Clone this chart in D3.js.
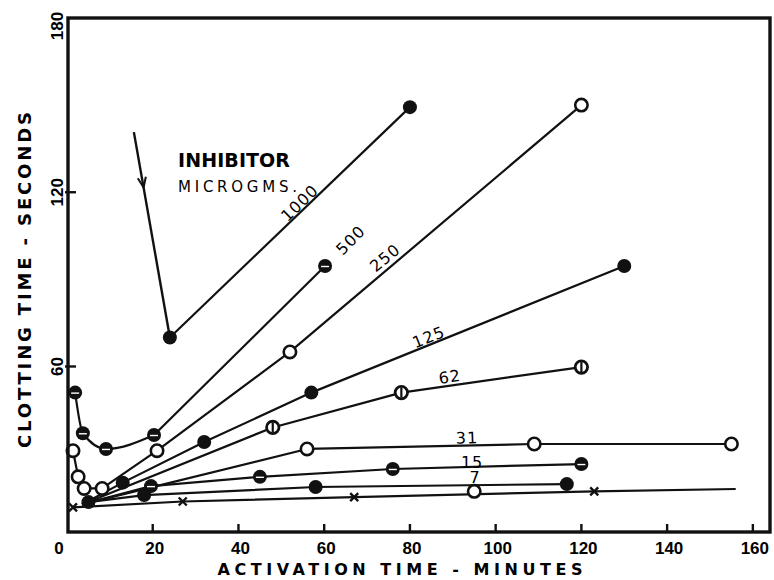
<!DOCTYPE html>
<html>
<head>
<meta charset="utf-8">
<script src="https://cdnjs.cloudflare.com/ajax/libs/d3/7.8.5/d3.min.js"></script>
<style>
	body { margin: 0; background: #fff; }
	svg { display: block; }
</style>
</head>
<body>
<svg id="svg_main" width="774" height="580"></svg>
<script>
// series: [activation minutes, clotting seconds]
var s1000 = [[24, 70], [80, 149.3]];
var s500 = [[1.9, 51], [3.7, 37], [9.1, 31.6], [20.3, 36.4], [60.2, 94.6]];
var s250 = [[1.4, 31], [2.6, 22], [4, 18], [8.2, 18], [21, 31], [52, 65], [120, 150]];
var s125 = [[13, 20], [32, 34], [57, 51], [130, 94.6]];
var s62 = [[48, 39], [78, 51], [120, 59.8]];
var s31 = [[56, 31.6], [109, 33.3], [155, 33.3]];
var s15 = [[19.6, 18.8], [45, 22], [76, 24.7], [120, 26.4]];
var s7 = [[5, 13.3], [18, 15.7], [58, 18.5], [116.6, 19.5]];
var s0 = [[1.4, 11.5], [27, 13.5], [67, 15], [123, 17]];
var s0_end = [156, 17.8];
var s0_open = [[95, 17]];
var fan_start = [3.5, 12.5];
var arrow_pts = [[15.6, 140.7], [24, 70]];

var x_ticks = [0, 20, 40, 60, 80, 100, 120, 140, 160];
var y_ticks = [60, 120, 180];

var labels_txt = ["1000", "500", "250", "125", "62", "31", "15", "7"];
var labels_pos = [[54.3, 116.3], [66.2, 103.5], [74.2, 97.4], [84.4, 70.1], [89.3, 56.4], [93.3, 35.4], [94.5, 27.1], [95.2, 21.6]];
var labels_rot = [-44, -45, -40, -22, -8, -2, 0, 0];

var svg = d3.select("#svg_main");

var x = d3.scaleLinear().domain([0, 164]).range([67, 770]),
	y = d3.scaleLinear().domain([3, 180]).range([532, 18]);

var line = d3.line()
	.x(d => x(d[0]))
	.y(d => y(d[1]));
var smooth = d3.line()
	.x(d => x(d[0]))
	.y(d => y(d[1]))
	.curve(d3.curveMonotoneX);

var series = [
	{ pts: s1000, mark: "filled" },
	{ pts: s500, mark: "half", bend: 4 },
	{ pts: s250, mark: "open" },
	{ pts: [fan_start].concat(s125), mark: "filled", skip: 1 },
	{ pts: [fan_start].concat(s62), mark: "vbar", skip: 1 },
	{ pts: [fan_start].concat(s31), mark: "open", skip: 1 },
	{ pts: [fan_start].concat(s15), mark: "half", skip: 1 },
	{ pts: s7, mark: "filled" },
	{ pts: s0.concat([s0_end]), mark: "x", last: 1 }
];

// lines
var lines = svg.append("g").attr("class", "lines");
for (let s of series) {
	let paths = s.bend
		? [smooth(s.pts.slice(0, s.bend)), line(s.pts.slice(s.bend - 1))]
		: [line(s.pts)];
	for (let p of paths)
		lines.append("path")
			.attr("d", p)
			.attr("fill", "none")
			.attr("stroke", "#111")
			.attr("stroke-width", 2.2)
			.attr("stroke-linejoin", "round");
}

// arrow toward the 1000 curve
svg.append("line")
	.attr("x1", x(arrow_pts[0][0])).attr("y1", y(arrow_pts[0][1]))
	.attr("x2", x(arrow_pts[1][0])).attr("y2", y(arrow_pts[1][1]))
	.attr("stroke", "#111")
	.attr("stroke-width", 2.4);
(function () {
	let x1 = x(arrow_pts[0][0]), y1 = y(arrow_pts[0][1]),
		x2 = x(arrow_pts[1][0]), y2 = y(arrow_pts[1][1]);
	let ang = Math.atan2(y2 - y1, x2 - x1);
	let tx = x1 + (x2 - x1) * 0.27, ty = y1 + (y2 - y1) * 0.27;
	for (let k of [-1, 1]) {
		let a = ang + Math.PI + k * 0.38;
		svg.append("line")
			.attr("x1", tx).attr("y1", ty)
			.attr("x2", tx + 11 * Math.cos(a)).attr("y2", ty + 11 * Math.sin(a))
			.attr("stroke", "#111")
			.attr("stroke-width", 2);
	}
})();

// markers
function marker(g, px, py, kind) {
	if (kind == "x") {
		g.append("path")
			.attr("d", `M${px - 4},${py - 4}L${px + 4},${py + 4}M${px - 4},${py + 4}L${px + 4},${py - 4}`)
			.attr("stroke", "#111")
			.attr("stroke-width", 2.4);
		return;
	}
	let c = g.append("circle")
		.attr("cx", px).attr("cy", py)
		.attr("r", kind == "open" || kind == "vbar" ? 6.2 : 7);
	if (kind == "filled") c.attr("fill", "#111");
	if (kind == "open") c.attr("fill", "#fff").attr("stroke", "#111").attr("stroke-width", 2.6);
	if (kind == "half") {
		c.attr("fill", "#111");
		g.append("line")
			.attr("x1", px - 4).attr("x2", px + 4)
			.attr("y1", py + 0.5).attr("y2", py + 0.5)
			.attr("stroke", "#fff")
			.attr("stroke-width", 1.4);
	}
	if (kind == "vbar") {
		c.attr("fill", "#fff").attr("stroke", "#111").attr("stroke-width", 2.8);
		g.append("line")
			.attr("x1", px).attr("x2", px)
			.attr("y1", py - 5).attr("y2", py + 5)
			.attr("stroke", "#111")
			.attr("stroke-width", 2.2);
	}
}

var marks = svg.append("g").attr("class", "marks");
for (let s of series) {
	let pts = s.pts.slice(s.skip || 0, s.pts.length - (s.last || 0));
	for (let d of pts) marker(marks, x(d[0]), y(d[1]), s.mark);
}
for (let d of s0_open) marker(marks, x(d[0]), y(d[1]), "open");

// frame
svg.append("rect")
	.attr("x", x(0) + 1)
	.attr("y", y(180))
	.attr("width", x(164) - x(0) - 1)
	.attr("height", y(3) - y(180))
	.attr("fill", "none")
	.attr("stroke", "#111")
	.attr("stroke-width", 3.4);

// inward ticks
var ticks = svg.append("g").attr("class", "ticks");
for (let t of x_ticks.slice(1)) {
	ticks.append("line")
		.attr("x1", x(t)).attr("x2", x(t))
		.attr("y1", y(3)).attr("y2", y(3) - 8)
		.attr("stroke", "#111")
		.attr("stroke-width", 2.4);
	ticks.append("text")
		.attr("x", x(t) + 2)
		.attr("y", 554)
		.attr("text-anchor", "middle")
		.attr("font-family", "Liberation Sans, Arial, sans-serif")
		.attr("font-weight", "bold")
		.attr("font-size", "17px")
		.text(t);
}
ticks.append("text")
	.attr("x", x(0) - 8)
	.attr("y", 554)
	.attr("text-anchor", "middle")
	.attr("font-family", "Liberation Sans, Arial, sans-serif")
	.attr("font-weight", "bold")
	.attr("font-size", "17px")
	.text("0");
for (let t of y_ticks) {
	if (t < 180)
		ticks.append("line")
			.attr("x1", x(0) - 2).attr("x2", x(0) + 9)
			.attr("y1", y(t)).attr("y2", y(t))
			.attr("stroke", "#111")
			.attr("stroke-width", 2.4);
	ticks.append("text")
		.attr("transform", `translate(63, ${t == 180 ? y(t) + 8 : y(t)}) rotate(-90)`)
		.attr("text-anchor", "middle")
		.attr("font-family", "Liberation Sans, Arial, sans-serif")
		.attr("font-weight", "bold")
		.attr("font-size", "17px")
		.text(t);
}

// axis titles
svg.append("text")
	.attr("x", 400)
	.attr("y", 575)
	.attr("text-anchor", "middle")
	.attr("font-family", "DejaVu Sans, sans-serif")
	.attr("font-weight", "bold")
	.attr("font-size", "16px")
	.attr("textLength", 365)
	.attr("lengthAdjust", "spacing")
	.text("ACTIVATION  TIME  -  MINUTES");
svg.append("text")
	.attr("transform", "translate(31, 280) rotate(-90)")
	.attr("text-anchor", "middle")
	.attr("font-family", "DejaVu Sans, sans-serif")
	.attr("font-weight", "bold")
	.attr("font-size", "18px")
	.attr("textLength", 336)
	.attr("lengthAdjust", "spacing")
	.text("CLOTTING  TIME  -  SECONDS");

// legend heading
svg.append("text")
	.attr("x", 178)
	.attr("y", 167)
	.attr("font-family", "DejaVu Sans, sans-serif")
	.attr("font-weight", "bold")
	.attr("font-size", "19px")
	.attr("textLength", 112)
	.attr("lengthAdjust", "spacing")
	.text("INHIBITOR");
svg.append("text")
	.attr("x", 178)
	.attr("y", 192)
	.attr("font-family", "DejaVu Sans, sans-serif")
	.attr("font-size", "15px")
	.attr("textLength", 119)
	.attr("lengthAdjust", "spacing")
	.text("MICROGMS.");

// dose labels along the curves
var lab = svg.append("g").attr("class", "labels");
labels_txt.forEach((t, i) => {
	lab.append("text")
		.attr("transform", `translate(${x(labels_pos[i][0])}, ${y(labels_pos[i][1])}) rotate(${labels_rot[i]})`)
		.attr("text-anchor", "middle")
		.attr("dominant-baseline", "central")
		.attr("font-family", "DejaVu Sans, sans-serif")
		.attr("font-size", "16px")
		.attr("letter-spacing", "1px")
		.text(t);
});
</script>
</body>
</html>
